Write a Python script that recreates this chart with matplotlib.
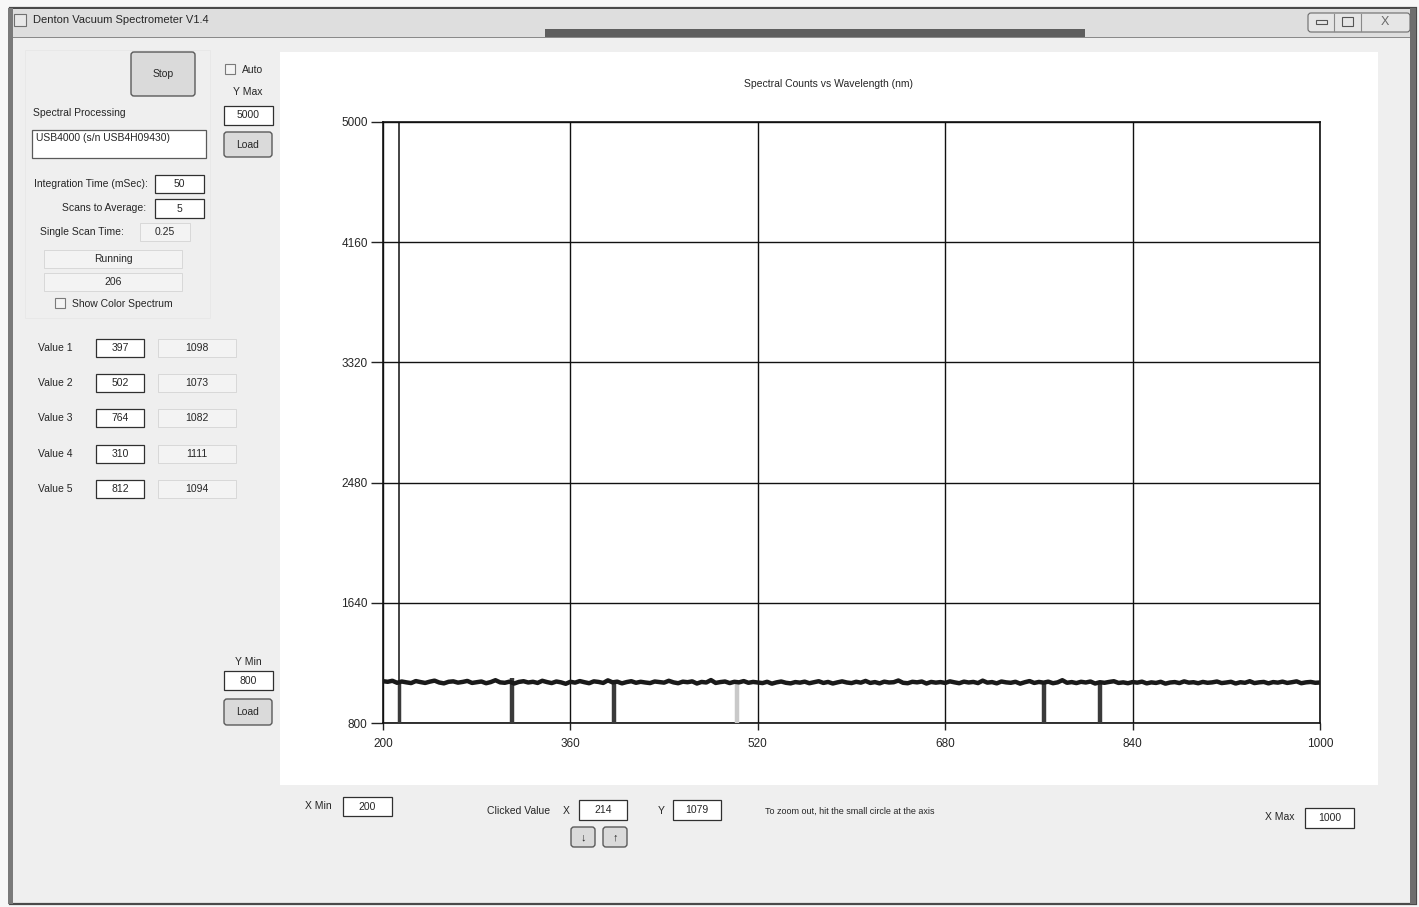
import numpy as np
import matplotlib.pyplot as plt
from matplotlib.patches import Rectangle, FancyBboxPatch

plt.rcParams['font.family'] = ['Liberation Sans', 'DejaVu Sans']

# spectrum, one reading every 4 nm from 200 to 1000 nm
wavelength = np.arange(200, 1001, 4)
counts = [
    1092, 1088, 1095, 1081, 1090, 1084, 1079, 1093, 1086, 1080, 1089, 1096, 1083, 1077, 1088, 1091, 1082, 1087, 1094, 1080,
    1085, 1090, 1078, 1086, 1099, 1084, 1081, 1089, 1076, 1087, 1092, 1083, 1088, 1080, 1095, 1086, 1079, 1090, 1084, 1074,
    1088, 1082, 1093, 1085, 1078, 1091, 1087, 1080, 1098, 1084, 1089, 1077, 1086, 1092, 1081, 1088, 1083, 1079, 1090, 1086,
    1082, 1095, 1084, 1078, 1089, 1085, 1091, 1076, 1087, 1083, 1100, 1080, 1086, 1090, 1079, 1088, 1084, 1093, 1081, 1087,
    1083, 1079, 1088, 1075, 1084, 1090, 1081, 1077, 1086, 1082, 1089, 1078, 1085, 1092, 1080, 1087, 1076, 1084, 1091, 1083,
    1079, 1088, 1082, 1094, 1080, 1086, 1077, 1089, 1083, 1085, 1097, 1081, 1078, 1088, 1084, 1090, 1076, 1087, 1082, 1086,
    1080, 1091, 1084, 1078, 1089, 1083, 1087, 1079, 1096, 1082, 1086, 1077, 1090, 1084, 1081, 1088, 1075, 1085, 1093, 1080,
    1087, 1082, 1089, 1078, 1084, 1099, 1081, 1086, 1079, 1088, 1083, 1090, 1076, 1085, 1081, 1087, 1092, 1080, 1084, 1078,
    1086, 1082, 1089, 1077, 1084, 1080, 1088, 1075, 1083, 1086, 1079, 1091, 1082, 1085, 1078, 1087, 1081, 1084, 1090, 1079,
    1083, 1088, 1076, 1085, 1081, 1092, 1079, 1084, 1087, 1077, 1086, 1082, 1089, 1080, 1085, 1091, 1078, 1084, 1087, 1081,
    1083,
]

# picked peaks (wavelength, counts)
value_names = ['Value 1', 'Value 2', 'Value 3', 'Value 4', 'Value 5']
value_wl = [397, 502, 764, 310, 812]
value_counts = [1098, 1073, 1082, 1111, 1094]

clicked_x = 214
clicked_y = 1079

x_min, x_max = 200, 1000
y_min, y_max = 800, 5000
x_ticks = [200, 360, 520, 680, 840, 1000]
y_ticks = [800, 1640, 2480, 3320, 4160, 5000]

W, H = 1419, 907
fig = plt.figure(figsize=(W / 100, H / 100), dpi=100)
fig.patch.set_facecolor('#f7f7f7')

# full-window layer in pixel coordinates
ui = fig.add_axes([0, 0, 1, 1], zorder=0)
ui.set_xlim(0, W)
ui.set_ylim(H, 0)
ui.axis('off')

TXT = '#262626'


def rect(x0, y0, x1, y1, fc, ec='none', lw=1.0, r=0):
    if r:
        p = FancyBboxPatch((x0, y0), x1 - x0, y1 - y0,
                           boxstyle=f'round,pad=0,rounding_size={r}',
                           fc=fc, ec=ec, lw=lw)
    else:
        p = Rectangle((x0, y0), x1 - x0, y1 - y0, fc=fc, ec=ec, lw=lw)
    ui.add_patch(p)


def text(x, y, s, ha='left', size=8, color=TXT):
    ui.text(x, y, s, ha=ha, va='center', fontsize=size, color=color)


def textbox(x0, y0, x1, y1, s):
    rect(x0, y0, x1, y1, 'white', '#303030', 0.9)
    text((x0 + x1) / 2, (y0 + y1) / 2, s, ha='center', size=7.5)


def readonly(x0, y0, x1, y1, s):
    rect(x0, y0, x1, y1, '#f3f3f3', '#d4d4d4', 0.6)
    text((x0 + x1) / 2, (y0 + y1) / 2, s, ha='center', size=7.5)


def button(x0, y0, x1, y1, s, size=7.5):
    rect(x0, y0, x1, y1, '#dadada', '#5a5a5a', 1.0, r=3)
    text((x0 + x1) / 2, (y0 + y1) / 2, s, ha='center', size=size)


def checkbox(x, y):
    rect(x - 5, y - 5, x + 5, y + 5, '#f4f4f4', '#7a7a7a', 0.8)


# window frame and title bar
rect(10, 8, 1416, 904, '#efefef', '#4a4a4a', 1.6)
rect(11, 9, 1415, 37, '#dedede')
rect(545, 29, 1085, 37, '#5e5e5e')
rect(12, 37, 1413, 38, '#8a8a8a')
rect(8, 8, 13, 904, '#7a7a7a')
rect(1410, 8, 1416, 904, '#6e6e6e')
rect(14, 14, 26, 26, '#e8e8e8', '#707070', 0.8)
text(33, 20, 'Denton Vacuum Spectrometer V1.4', size=8)
rect(1308, 13, 1410, 32, '#e6e6e6', '#6a6a6a', 0.8, r=3)
ui.plot([1334, 1334], [14, 31], color='#8a8a8a', lw=0.8)
ui.plot([1361, 1361], [14, 31], color='#8a8a8a', lw=0.8)
rect(1316, 20, 1327, 24, 'none', '#555555', 0.8)
rect(1342, 17, 1353, 26, 'none', '#555555', 0.8)
text(1385, 22, 'X', ha='center', size=9, color='#6a6a6a')

# left control panel, with its faint group outline
rect(25, 50, 210, 318, 'none', '#e6e6e6', 0.5)
button(131, 52, 195, 96, 'Stop')
checkbox(230, 69)
text(242, 70, 'Auto', size=7.5)
text(248, 92, 'Y Max', ha='center', size=7.5)
textbox(224, 106, 273, 125, str(y_max))
button(224, 132, 272, 157, 'Load')

text(33, 113, 'Spectral Processing', size=7.5)
rect(32, 130, 206, 158, 'white', '#5a5a5a', 0.9)
text(36, 138, 'USB4000 (s/n USB4H09430)', size=7.5)

text(148, 184, 'Integration Time (mSec):', ha='right', size=7.5)
textbox(155, 175, 204, 193, '50')
text(146, 208, 'Scans to Average:', ha='right', size=7.5)
textbox(155, 199, 204, 218, '5')
text(124, 232, 'Single Scan Time:', ha='right', size=7.5)
readonly(140, 223, 190, 241, '0.25')
readonly(44, 250, 182, 268, 'Running')
readonly(44, 273, 182, 291, '206')
checkbox(60, 303)
text(72, 304, 'Show Color Spectrum', size=7.5)

for i, name in enumerate(value_names):
    yc = 348 + i * 35.2
    text(38, yc, name, size=7.5)
    textbox(96, yc - 9, 144, yc + 9, str(value_wl[i]))
    readonly(158, yc - 9, 236, yc + 9, str(value_counts[i]))

text(248, 662, 'Y Min', ha='center', size=7.5)
textbox(224, 671, 273, 690, str(y_min))
button(224, 699, 272, 725, 'Load')

# chart panel
rect(280, 52, 1378, 785, 'white')
text(829, 84, 'Spectral Counts vs Wavelength (nm)', ha='center', size=7.5)

# bottom controls
text(318, 806, 'X Min', ha='center', size=7.5)
textbox(343, 797, 392, 816, str(x_min))
text(519, 811, 'Clicked Value', ha='center', size=7.5)
text(566, 811, 'X', ha='center', size=7.5)
textbox(579, 800, 627, 820, str(clicked_x))
text(661, 811, 'Y', ha='center', size=7.5)
textbox(673, 800, 721, 820, str(clicked_y))
text(765, 811, 'To zoom out, hit the small circle at the axis', size=6.5)
button(571, 827, 595, 847, '\u2193', size=8)
button(603, 827, 627, 847, '\u2191', size=8)
text(1280, 817, 'X Max', ha='center', size=7.5)
textbox(1305, 808, 1354, 828, str(x_max))

# spectrum plot
ax = fig.add_axes([383 / W, 1 - 723 / H, 937 / W, 601 / H], zorder=2)
ax.set_facecolor('white')
ax.set_xlim(x_min, x_max)
ax.set_ylim(y_min, y_max)
ax.set_xticks(x_ticks)
ax.set_yticks(y_ticks)
ax.grid(True, color='#111111', lw=1.0)
for s in ax.spines.values():
    s.set_color('#111111')
    s.set_linewidth(1.2)
ax.tick_params(axis='y', length=9, width=1.0, color='#222222', labelsize=8.5,
               labelcolor=TXT, pad=2)
ax.tick_params(axis='x', length=5, width=1.0, color='#222222', labelsize=8.5,
               labelcolor=TXT, pad=6)

colors = ['#3a3a3a', '#c9c9c9', '#3a3a3a', '#3a3a3a', '#3a3a3a']
ax.vlines(value_wl, y_min, value_counts, colors=colors, lw=3.2, zorder=3)
ax.axvline(clicked_x, color='#111111', lw=1.1, zorder=3)
ax.vlines([clicked_x], y_min, [clicked_y], colors='#3a3a3a', lw=2.5, zorder=3)
ax.plot(wavelength, counts, color='#1a1a1a', lw=3.2, zorder=4)

fig.savefig('out.png', dpi=100, facecolor=fig.get_facecolor())
